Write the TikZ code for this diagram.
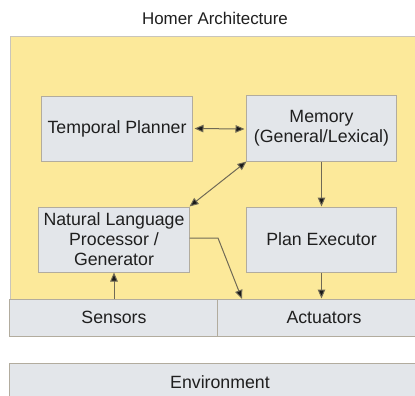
\documentclass[tikz,border=0pt]{standalone}
\usepackage{fontspec}
\setmainfont{Liberation Sans}
\usetikzlibrary{arrows.meta}
\definecolor{yel}{RGB}{252,233,154}
\definecolor{boxfill}{RGB}{227,230,234}
\definecolor{boxline}{RGB}{178,172,158}
\definecolor{conn}{RGB}{112,106,86}
\begin{document}
\begin{tikzpicture}[x=1bp,y=-1bp,
  blk/.style={draw=boxline,fill=boxfill,line width=1bp,inner sep=0pt,align=center,
    font=\fontsize{17.8}{20}\selectfont,text=black!88},
  conn/.style={draw=conn,line width=1bp},
  arr/.style={conn,-{Triangle[length=9bp,width=7.5bp,fill=black!90]}},
  darr/.style={conn,{Triangle[length=9bp,width=7.5bp,fill=black!90]}-{Triangle[length=9bp,width=7.5bp,fill=black!90]}}]
\useasboundingbox (0,0) rectangle (415,396);
\begin{scope}
\clip (0,0) rectangle (415,396);
\fill[white] (0,0) rectangle (415,396);
\node[font=\fontsize{17}{19}\selectfont,text=black!88] (title) at (215,18) {Homer Architecture};
\draw[draw=boxline!70,fill=yel,line width=1bp] (10,36) rectangle (440,299);
\node[blk,minimum width=150bp,minimum height=65bp] (tp) at (117,128.5) {Temporal Planner};
\node[blk,minimum width=149bp,minimum height=66bp] (mem) at (321.5,128) {Memory\\(General/Lexical)};
\node[blk,minimum width=150bp,minimum height=65bp] (nlp) at (114,239.5) {Natural Language\\Processor /\\Generator};
\node[blk,minimum width=149bp,minimum height=65bp] (pe) at (321.5,239.5) {Plan Executor};
\node[blk,minimum width=208bp,minimum height=37bp] (sen) at (114,317.5) {Sensors};
\node[blk,minimum width=212bp,minimum height=37bp] (act) at (324,317.5) {Actuators};
\node[blk,minimum width=420bp,minimum height=38bp] (env) at (220,382) {Environment};
\coordinate (bend) at (218,238);
\coordinate (actin) at (242,299);
\draw[darr] ([xshift=2bp]tp.east) -- ([xshift=-2bp,yshift=-0.5bp]mem.west |- tp.east);
\draw[darr] (mem.south west) -- (nlp.north east);
\draw[arr] (mem.south) -- (pe.north);
\draw[arr] (pe.south) -- (pe.south |- act.north);
\draw[arr] (sen.north) -- (sen.north |- nlp.south);
\draw[arr] (nlp.east |- bend) -- (bend) -- (actin);
\end{scope}
\end{tikzpicture}
\end{document}
